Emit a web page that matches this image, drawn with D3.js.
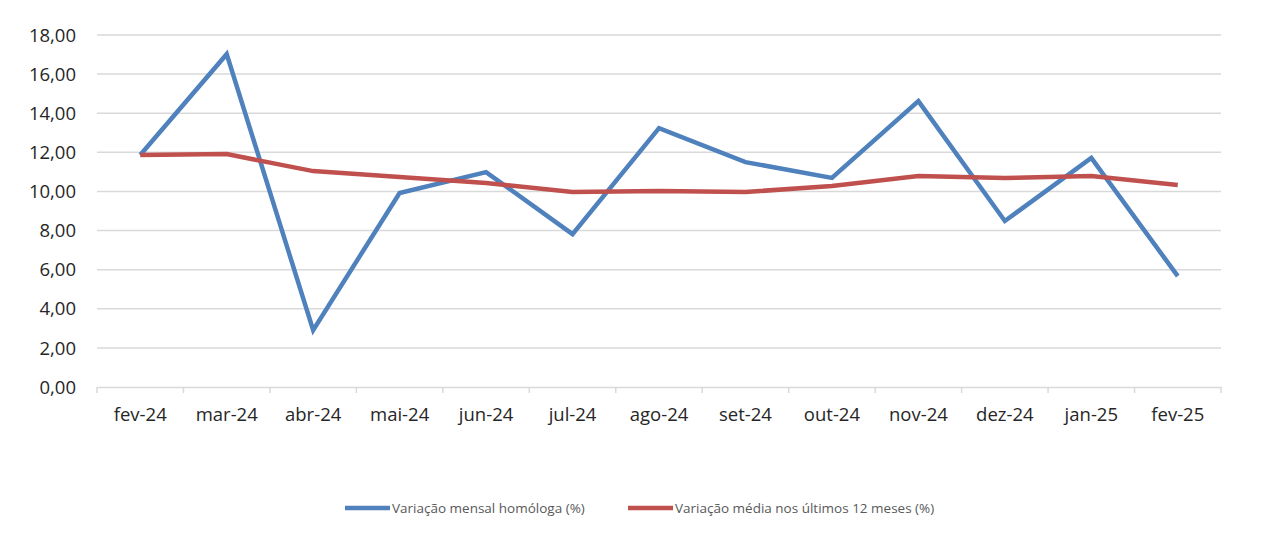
<!DOCTYPE html>
<html><head><meta charset="utf-8">
<script src="https://cdn.jsdelivr.net/npm/d3@7"></script>
<style>body{margin:0;background:#fff;} svg{display:block;}</style>
</head><body><svg id="c" width="1266" height="541"></svg>
<script>
const categories = ["fev-24","mar-24","abr-24","mai-24","jun-24","jul-24","ago-24","set-24","out-24","nov-24","dez-24","jan-25","fev-25"];
const mensal = [11.86,17.02,2.91,9.92,10.99,7.82,13.24,11.50,10.69,14.62,8.49,11.71,5.67];
const media12 = [11.86,11.91,11.04,10.74,10.43,9.97,10.02,9.97,10.28,10.79,10.69,10.79,10.33];
const yTicks = [0,2,4,6,8,10,12,14,16,18];
const seriesNames = ["Variação mensal homóloga (%)","Variação média nos últimos 12 meses (%)"];

const svg = d3.select("#c");
const m = {l:97, r:1221, t:35, b:387};
const x = d3.scaleBand().domain(categories).range([m.l, m.r]);
const y = d3.scaleLinear().domain([0,18]).range([m.b, m.t]);
const font = "'Open Sans', 'Liberation Sans', sans-serif";

// gridlines
svg.append("g").selectAll("line").data(yTicks.filter(d=>d>0)).join("line")
  .attr("x1", m.l).attr("x2", m.r).attr("y1", d=>y(d)).attr("y2", d=>y(d))
  .attr("stroke", "#d9d9d9").attr("stroke-width", 1.5);

// y labels
svg.append("g").selectAll("text").data(yTicks).join("text")
  .attr("x", 76).attr("y", d=>y(d)).attr("dy","0.36em").attr("text-anchor","end")
  .attr("font-family", font).attr("font-size", 18.5).attr("fill", "#262626")
  .text(d=>d3.format(".2f")(d).replace(".", ","));

// x axis
const xAxis = d3.axisBottom(x).tickSize(0).tickSizeOuter(0);
const gx = svg.append("g").attr("transform", `translate(0,${m.b})`).call(xAxis);
gx.select(".domain").attr("stroke", "#d9d9d9").attr("stroke-width", 1.5);
gx.selectAll("text").attr("font-family", font).attr("font-size", 18.5).attr("fill", "#262626").attr("dy", "1.68em");
// category boundary ticks
const bounds = categories.map(c=>x(c)).concat([m.r]);
svg.append("g").selectAll("line").data(bounds).join("line")
  .attr("x1", d=>d).attr("x2", d=>d).attr("y1", m.b).attr("y2", m.b+6)
  .attr("stroke", "#d9d9d9").attr("stroke-width", 1.5);

const line = d3.line().x((d,i)=>x(categories[i]) + x.bandwidth()/2).y(d=>y(d));
const colors = ["#4F81BD", "#C0504D"];
[mensal, media12].forEach((s,i)=>{
  svg.append("path").datum(s).attr("d", line).attr("fill","none")
    .attr("stroke", colors[i]).attr("stroke-width", 4.5).attr("stroke-linejoin","miter");
});

// legend
const leg = [{x:345, s:0},{x:628, s:1}];
leg.forEach(l=>{
  svg.append("line").attr("x1", l.x).attr("x2", l.x+45).attr("y1", 508).attr("y2", 508)
    .attr("stroke", colors[l.s]).attr("stroke-width", 4.5);
  svg.append("text").attr("x", l.x+47).attr("y", 508).attr("dy","0.36em")
    .attr("font-family", font).attr("font-size", 13.5).attr("fill", "#595959")
    .text(seriesNames[l.s]);
});
</script></body></html>
